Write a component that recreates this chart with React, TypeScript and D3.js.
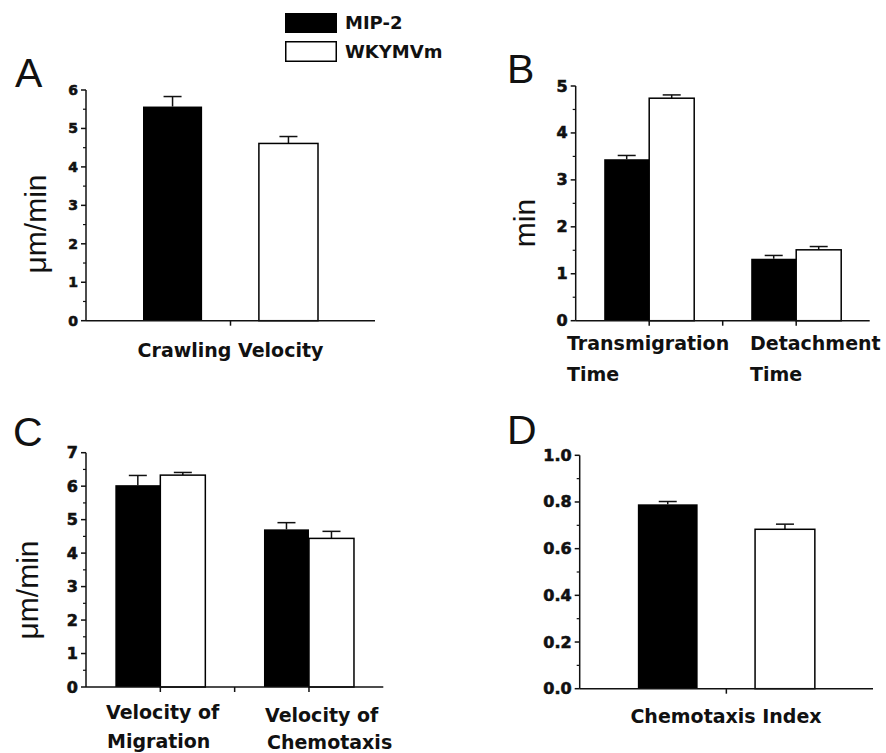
import React from "react";
import * as d3 from "d3";

// ---------- data ----------
const seriesNames = ["MIP-2", "WKYMVm"];

const aCategories = ["Crawling Velocity"];
const aMip2 = [5.57];
const aMip2Err = [0.26];
const aWky = [4.61];
const aWkyErr = [0.18];
const aTicks = [0, 1, 2, 3, 4, 5, 6];

const bCategories = ["Transmigration Time", "Detachment Time"];
const bLabelLines = [["Transmigration", "Time"], ["Detachment", "Time"]];
const bMip2 = [3.44, 1.32];
const bMip2Err = [0.08, 0.07];
const bWky = [4.74, 1.51];
const bWkyErr = [0.07, 0.07];
const bTicks = [0, 1, 2, 3, 4, 5];

const cCategories = ["Velocity of Migration", "Velocity of Chemotaxis"];
const cLabelLines = [["Velocity of", "Migration"], ["Velocity of", "Chemotaxis"]];
const cMip2 = [6.03, 4.71];
const cMip2Err = [0.29, 0.2];
const cWky = [6.33, 4.44];
const cWkyErr = [0.08, 0.21];
const cTicks = [0, 1, 2, 3, 4, 5, 6, 7];

const dCategories = ["Chemotaxis Index"];
const dMip2 = [0.79];
const dMip2Err = [0.012];
const dWky = [0.683];
const dWkyErr = [0.022];
const dTicks = [0, 0.2, 0.4, 0.6, 0.8, 1.0];

const FONT = "'Liberation Sans', Arial, Helvetica, sans-serif";
const BOLD = "'DejaVu Sans', Verdana, sans-serif";
const INK = "#111";

type Layout = {
  x0: number; x1: number; y0: number; yTop: number;
  half: number; pad: number; tickFont: number;
};

type PanelProps = {
  letter: string; letterX: number; letterY: number;
  yTitle: string; yTitleX: number; yTitleY: number;
  cats: string[]; mip: number[]; mipErr: number[]; wky: number[]; wkyErr: number[];
  ticks: number[]; fmt: (v: number) => string; minorStep: number;
  layout: Layout;
  catLabels: React.ReactNode;
};

function Panel(p: PanelProps) {
  const L = p.layout;
  const yMax = p.ticks[p.ticks.length - 1];
  const y = d3.scaleLinear().domain([0, yMax]).range([L.y0, L.yTop]);
  const x = d3.scaleBand().domain(p.cats).range([L.x0, L.x1]).padding(0);
  const sub = d3.scaleBand().domain(seriesNames).range([-L.half, L.half]).paddingInner(L.pad);
  const minor = d3.range(0, yMax + 1e-9, p.minorStep).filter(
    (v) => !p.ticks.some((t) => Math.abs(t - v) < 1e-9)
  );
  const catCenters = p.cats.map((c) => (x(c) as number) + x.bandwidth() / 2);
  const boundaries = p.cats.slice(1).map((c) => x(c) as number);
  const bars: { key: string; s: string; v: number; e: number; c: string }[] = [];
  p.cats.forEach((c, i) => {
    bars.push({ key: c + "m", s: seriesNames[0], v: p.mip[i], e: p.mipErr[i], c });
    bars.push({ key: c + "w", s: seriesNames[1], v: p.wky[i], e: p.wkyErr[i], c });
  });
  const capW = 18;
  return (
    <g>
      <text x={p.letterX} y={p.letterY} fontFamily={FONT} fontSize={41} fill={INK}>
        {p.letter}
      </text>
      {p.yTitle && (
        <text
          transform={`translate(${p.yTitleX},${p.yTitleY}) rotate(-90)`}
          textAnchor="middle"
          dominantBaseline="central"
          fontFamily={FONT}
          fontSize={30}
          fill={INK}
        >
          {p.yTitle}
        </text>
      )}
      {bars.map((b) => {
        const cx = (x(b.c) as number) + x.bandwidth() / 2;
        const bx = cx + (sub(b.s) as number);
        const bw = sub.bandwidth();
        const top = y(b.v);
        const et = y(b.v + b.e);
        const mx = bx + bw / 2;
        const black = b.s === seriesNames[0];
        return (
          <g key={b.key}>
            <line x1={mx} x2={mx} y1={top} y2={et} stroke={INK} strokeWidth={1.5} />
            <line x1={mx - capW / 2} x2={mx + capW / 2} y1={et} y2={et} stroke={INK} strokeWidth={1.5} />
            <rect
              x={bx}
              y={top}
              width={bw}
              height={L.y0 - top}
              fill={black ? "#000" : "#fff"}
              stroke="#000"
              strokeWidth={black ? 0 : 1.5}
            />
          </g>
        );
      })}
      {/* axes */}
      <line x1={L.x0} x2={L.x0} y1={L.y0} y2={L.yTop} stroke={INK} strokeWidth={1.5} />
      <line x1={L.x0} x2={L.x1} y1={L.y0} y2={L.y0} stroke={INK} strokeWidth={1.5} />
      {p.ticks.map((t) => (
        <g key={"t" + t}>
          <line x1={L.x0 - 5} x2={L.x0} y1={y(t)} y2={y(t)} stroke={INK} strokeWidth={1.5} />
          <text
            x={L.x0 - 8}
            y={y(t)}
            textAnchor="end"
            dominantBaseline="central"
            fontFamily={BOLD}
            fontWeight="bold"
            fontSize={L.tickFont}
            fill={INK}
            stroke={INK}
            strokeWidth={0.6}
          >
            {p.fmt(t)}
          </text>
        </g>
      ))}
      {minor.map((t) => (
        <line key={"m" + t} x1={L.x0 - 3} x2={L.x0} y1={y(t)} y2={y(t)} stroke={INK} strokeWidth={1.2} />
      ))}
      {[...catCenters, ...boundaries].map((cx, i) => (
        <line key={"xt" + i} x1={cx} x2={cx} y1={L.y0} y2={L.y0 + 5} stroke={INK} strokeWidth={1.5} />
      ))}
      {p.catLabels}
    </g>
  );
}

const catStyle = {
  fontFamily: BOLD,
  fontWeight: "bold" as const,
  fill: INK,
};

export default function App() {
  const layoutA: Layout = { x0: 86, x1: 375, y0: 320.7, yTop: 90, half: 87.5, pad: 0.49, tickFont: 14 };
  const layoutB: Layout = { x0: 575.7, x1: 869.7, y0: 320.7, yTop: 86, half: 45, pad: 0, tickFont: 16 };
  const layoutC: Layout = { x0: 86, x1: 383.3, y0: 687, yTop: 452.7, half: 45, pad: 0, tickFont: 16 };
  const layoutD: Layout = { x0: 579.7, x1: 873, y0: 688.7, yTop: 455.3, half: 88.5, pad: 0.49, tickFont: 16 };

  return (
    <div style={{ position: "absolute", left: 0, top: 0 }}>
      <svg width={886} height={753} style={{ display: "block", background: "#fff" }}>
        <rect width={886} height={753} fill="#fff" />
        {/* legend */}
        <rect x={285} y={13} width={52} height={20} fill="#000" />
        <rect x={285.75} y={41.75} width={50.5} height={19.5} fill="#fff" stroke="#000" strokeWidth={1.5} />
        <text x={345} y={22.5} dominantBaseline="central" fontSize={18} {...catStyle}>
          {seriesNames[0]}
        </text>
        <text x={345} y={51.5} dominantBaseline="central" fontSize={18} {...catStyle}>
          {seriesNames[1]}
        </text>

        <Panel
          letter="A" letterX={15} letterY={87}
          yTitle="μm/min" yTitleX={35} yTitleY={224}
          cats={aCategories} mip={aMip2} mipErr={aMip2Err} wky={aWky} wkyErr={aWkyErr}
          ticks={aTicks} fmt={(v) => d3.format("d")(v)} minorStep={0.5}
          layout={layoutA}
          catLabels={
            <text x={230.5} y={357} textAnchor="middle" fontSize={19} {...catStyle}>
              {aCategories[0]}
            </text>
          }
        />
        <Panel
          letter="B" letterX={507} letterY={83}
          yTitle="min" yTitleX={524} yTitleY={223}
          cats={bCategories} mip={bMip2} mipErr={bMip2Err} wky={bWky} wkyErr={bWkyErr}
          ticks={bTicks} fmt={(v) => d3.format("d")(v)} minorStep={0.5}
          layout={layoutB}
          catLabels={
            <g>
              <text x={567} y={350} fontSize={19} {...catStyle}>{bLabelLines[0][0]}</text>
              <text x={567} y={381} fontSize={19} {...catStyle}>{bLabelLines[0][1]}</text>
              <text x={750} y={350} fontSize={19} {...catStyle}>{bLabelLines[1][0]}</text>
              <text x={750} y={381} fontSize={19} {...catStyle}>{bLabelLines[1][1]}</text>
            </g>
          }
        />
        <Panel
          letter="C" letterX={13} letterY={446}
          yTitle="μm/min" yTitleX={27} yTitleY={590}
          cats={cCategories} mip={cMip2} mipErr={cMip2Err} wky={cWky} wkyErr={cWkyErr}
          ticks={cTicks} fmt={(v) => d3.format("d")(v)} minorStep={0.5}
          layout={layoutC}
          catLabels={
            <g>
              <text x={106} y={719} fontSize={19} {...catStyle}>{cLabelLines[0][0]}</text>
              <text x={107} y={748} fontSize={19} {...catStyle}>{cLabelLines[0][1]}</text>
              <text x={265} y={722} fontSize={19} {...catStyle}>{cLabelLines[1][0]}</text>
              <text x={267} y={749} fontSize={19} {...catStyle}>{cLabelLines[1][1]}</text>
            </g>
          }
        />
        <Panel
          letter="D" letterX={507} letterY={444}
          yTitle="" yTitleX={0} yTitleY={0}
          cats={dCategories} mip={dMip2} mipErr={dMip2Err} wky={dWky} wkyErr={dWkyErr}
          ticks={dTicks} fmt={(v) => d3.format(".1f")(v)} minorStep={0.1}
          layout={layoutD}
          catLabels={
            <text x={726} y={723} textAnchor="middle" fontSize={19} {...catStyle}>
              {dCategories[0]}
            </text>
          }
        />
      </svg>
    </div>
  );
}
